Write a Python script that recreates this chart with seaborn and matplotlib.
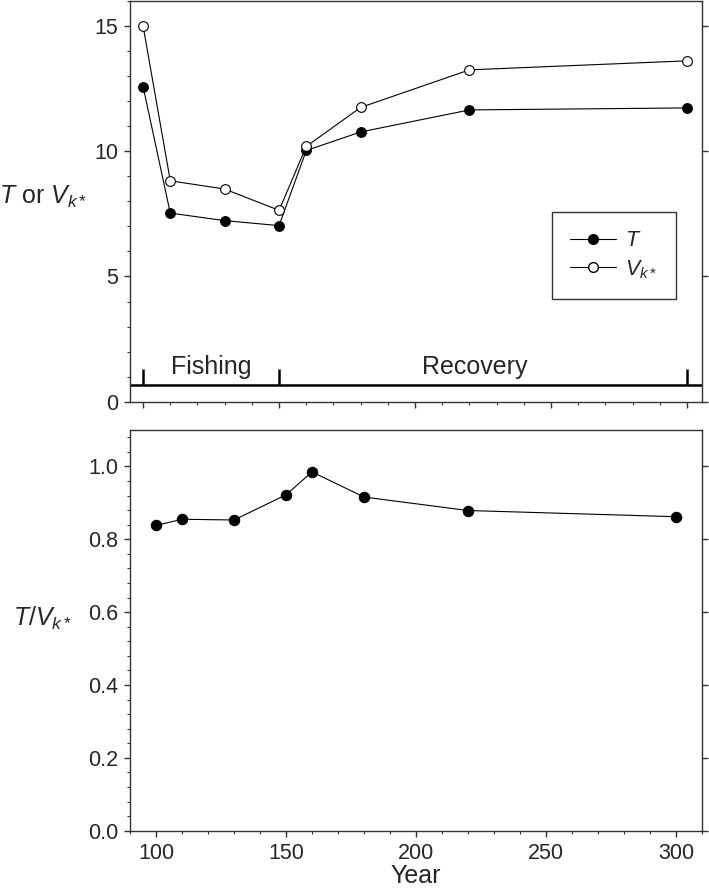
import numpy as np
import pandas as pd
import matplotlib
matplotlib.use("Agg")
import matplotlib.pyplot as plt
import seaborn as sns
from matplotlib.lines import Line2D
from matplotlib.ticker import MultipleLocator, FormatStrFormatter

# ---- data ----
years = [100, 110, 130, 150, 160, 180, 220, 300]
T_vals = [12.58, 7.53, 7.23, 7.03, 10.03, 10.77, 11.65, 11.73]
V_vals = [15.0, 8.82, 8.49, 7.64, 10.19, 11.75, 13.25, 13.61]
ratio_vals = [0.838, 0.855, 0.853, 0.922, 0.985, 0.916, 0.879, 0.862]
period_bounds = [100, 150, 300]
period_labels = ["Fishing", "Recovery"]
period_label_x = [125, 222]

sns.set_style("ticks")
plt.rcParams['font.family'] = ['Liberation Sans', 'DejaVu Sans']
plt.rcParams['mathtext.fontset'] = 'custom'
plt.rcParams['mathtext.rm'] = 'Liberation Sans'
plt.rcParams['mathtext.it'] = 'Liberation Sans:italic'
plt.rcParams['mathtext.bf'] = 'Liberation Sans:bold'

df = pd.DataFrame({"Year": years, "T": T_vals, "V": V_vals, "R": ratio_vals})

fig = plt.figure(figsize=(7.09, 8.94), dpi=100)
ax1 = fig.add_axes([0.1834, 0.5507, 0.8067, 0.4482])
ax2 = fig.add_axes([0.1834, 0.0708, 0.8067, 0.4482])

spine_c = '0.2'
tick_fs = 15.5
lab_fs = 18

# ---- top panel ----
sns.lineplot(data=df, x="Year", y="T", ax=ax1, color='black', lw=0.8,
             marker='o', markersize=7, markerfacecolor='black',
             markeredgecolor='black', markeredgewidth=0.8)
sns.lineplot(data=df, x="Year", y="V", ax=ax1, color='black', lw=0.8,
             marker='o', markersize=7, markerfacecolor='white',
             markeredgecolor='black', markeredgewidth=0.8)
ax1.set_xlim(95.2, 305.5)
ax1.set_ylim(0, 16)
ax1.xaxis.set_major_locator(MultipleLocator(50))
ax1.xaxis.set_minor_locator(MultipleLocator(10))
ax1.yaxis.set_major_locator(MultipleLocator(5))
ax1.yaxis.set_minor_locator(MultipleLocator(1))
ax1.set_xticklabels([])
ax1.set_xlabel("")

# fishing / recovery bar
ax1.axhline(0.66, color='black', lw=1.8)
ax1.vlines(period_bounds, 0.66, 1.3, color='black', lw=1.8)
for lab, xx in zip(period_labels, period_label_x):
    ax1.text(xx, 1.4, lab, ha='center', va='center', fontsize=lab_fs)

ax1.set_ylabel(r"$\mathit{T}$ or $\mathit{V}_{\mathit{k*}}$", rotation=0,
               fontsize=lab_fs, ha='right', va='center')
ax1.yaxis.set_label_coords(-0.075, 0.51)

handles = [
    Line2D([], [], color='black', lw=0.8, marker='o', markersize=7,
           markerfacecolor='black', markeredgecolor='black'),
    Line2D([], [], color='black', lw=0.8, marker='o', markersize=7,
           markerfacecolor='white', markeredgecolor='black'),
]
leg = ax1.legend(handles, [r"$\mathit{T}$", r"$\mathit{V}_{\mathit{k*}}$"],
                 loc='upper left', bbox_to_anchor=(0.738, 0.473),
                 borderaxespad=0, fontsize=15.5, frameon=True,
                 fancybox=False, edgecolor='black', handlelength=2.1,
                 labelspacing=0.3, borderpad=0.85, handletextpad=0.45)
leg.get_frame().set_linewidth(1.0)

# ---- bottom panel ----
sns.lineplot(data=df, x="Year", y="R", ax=ax2, color='black', lw=0.8,
             marker='o', markersize=7.5, markerfacecolor='black',
             markeredgecolor='black')
ax2.set_xlim(90, 310)
ax2.set_ylim(0, 1.1)
ax2.xaxis.set_major_locator(MultipleLocator(50))
ax2.xaxis.set_minor_locator(MultipleLocator(10))
ax2.yaxis.set_major_locator(MultipleLocator(0.2))
ax2.yaxis.set_minor_locator(MultipleLocator(0.04))
ax2.yaxis.set_major_formatter(FormatStrFormatter('%.1f'))
ax2.set_xlabel("Year", fontsize=lab_fs, labelpad=0)
ax2.set_ylabel(r"$\mathit{T}/\mathit{V}_{\mathit{k*}}$", rotation=0,
               fontsize=lab_fs, ha='right', va='center')
ax2.yaxis.set_label_coords(-0.101, 0.53)

for ax in (ax1, ax2):
    for s in ax.spines.values():
        s.set_visible(True)
        s.set_color(spine_c)
        s.set_linewidth(1.0)
    ax.tick_params(axis='both', which='major', direction='out', length=4.5,
                   width=1.0, color=spine_c, labelsize=tick_fs, pad=4)
    ax.tick_params(axis='both', which='minor', direction='out', length=2.5,
                   width=0.8, color=spine_c)
    ax.tick_params(axis='y', which='major', right=True, left=True)
    ax.tick_params(axis='y', which='minor', right=False, left=True)
    ax.tick_params(axis='x', which='both', top=False)

fig.savefig("out.png", dpi=100)
